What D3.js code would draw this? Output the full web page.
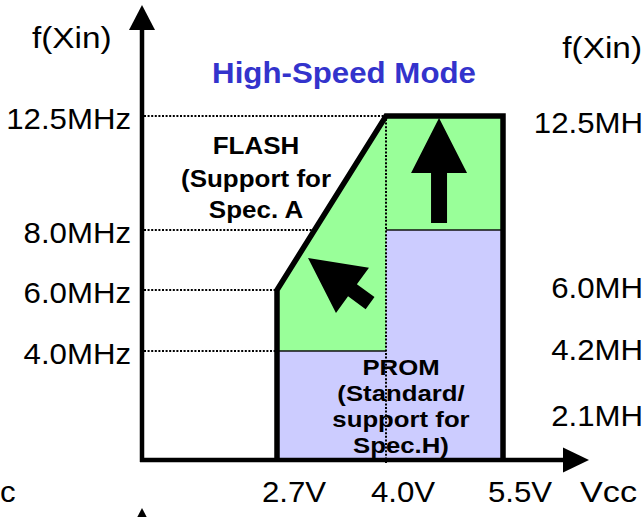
<!DOCTYPE html>
<html><head><meta charset="utf-8">
<script src="https://cdn.jsdelivr.net/npm/d3@7"></script>
<style>html,body{margin:0;padding:0;background:#fff;overflow:hidden}</style>
</head><body>
<svg id="chart" width="643" height="517"></svg>
<script>
// ---------- data ----------
const yTickValues = [12.5, 8.0, 6.0, 4.0];
const yTickLabels = ["12.5MHz", "8.0MHz", "6.0MHz", "4.0MHz"];
const xTickValues = [2.7, 4.0, 5.5];
const xTickLabels = ["2.7V", "4.0V", "5.5V"];
const flashVcc  = [2.7, 2.7, 4.0, 5.5, 5.5, 4.0, 4.0];
const flashFreq = [4.0, 6.0, 12.5, 12.5, 8.0, 8.0, 4.0];
const promVcc   = [2.7, 2.7, 4.0, 4.0, 5.5, 5.5];
const promFreq  = [0, 4.0, 4.0, 8.0, 8.0, 0];
const boundaryVcc  = [2.7, 2.7, 4.0, 5.5, 5.5];
const boundaryFreq = [0, 6.0, 12.5, 12.5, 0];
const arrowTailVcc  = [4.68, 3.81];
const arrowTailFreq = [8.28, 5.57];
const arrowTipVcc   = [4.68, 3.07];
const arrowTipFreq  = [12.42, 7.07];
const titleText = "High-Speed Mode";
const flashLabel = ["FLASH", "(Support for", "Spec. A"];
const promLabel = ["PROM", "(Standard/", "support for", "Spec.H)"];
const yAxisTitle = "f(Xin)";
const xAxisTitle = "Vcc";
// labels of the neighbouring charts, as far as they show inside the frame
const neighbourFreqValues = [12.5, 6.0, 4.2, 2.1];
const neighbourFreqLabels = ["12.5MH", "6.0MH", "4.2MH", "2.1MH"];
const neighbourXTitle = "c";

// ---------- layout ----------
const svg = d3.select("#chart");
const x0 = 142;               // y-axis position
const FONT = "Arial, 'Liberation Sans', Helvetica, sans-serif";
const yScale = d3.scaleLinear().domain([0, 4, 6, 8, 12.5]).range([460, 351, 290, 230, 116]);
const xScale = d3.scaleLinear().domain([2.7, 4.0, 5.5]).range([277, 386, 503]);
const nbY = d3.scaleLinear().domain([2.1, 4.2, 6.0, 12.5]).range([426, 360, 298, 133]);
const yBase = yScale(0);

const GREEN = "#99FF99", LAV = "#CCCCFF", BLUE = "#3333CC";

function addText(parent, str, x, y, o) {
  return parent.append("text")
    .attr("transform", `translate(${x},${y}) scale(${o.sx || 1},1)`)
    .attr("text-anchor", o.anchor || "start")
    .attr("font-family", FONT)
    .attr("font-size", o.size)
    .attr("font-weight", o.weight || "normal")
    .attr("fill", o.fill || "#000")
    .text(str);
}

const pts = (vs, fs) => vs.map((v, i) => [xScale(v), yScale(fs[i])]);
const line = d3.line();

// fills
svg.append("path").attr("d", line(pts(promVcc, promFreq)) + "Z").attr("fill", LAV);
svg.append("path").attr("d", line(pts(flashVcc, flashFreq)) + "Z").attr("fill", GREEN);

// thin boundary between PROM and FLASH (horizontal top edges)
const promPts = pts(promVcc, promFreq);
for (let i = 0; i < promPts.length - 1; i++) {
  if (promFreq[i] === promFreq[i + 1] && promFreq[i] > 0) {
    svg.append("line").attr("x1", promPts[i][0]).attr("y1", promPts[i][1])
      .attr("x2", promPts[i + 1][0]).attr("y2", promPts[i + 1][1])
      .attr("stroke", "#111").attr("stroke-width", 1.5);
  }
}

// dotted horizontal guides: from y-axis to the boundary
const bPts = pts(boundaryVcc, boundaryFreq);
function boundaryXAt(y) {
  for (let i = 0; i < bPts.length - 1; i++) {
    const [xa, ya] = bPts[i], [xb, yb] = bPts[i + 1];
    if ((y - ya) * (y - yb) <= 0 && ya !== yb) return xa + (y - ya) / (yb - ya) * (xb - xa);
  }
  return xScale(4.0);
}
const dotted = { stroke: "#000", w: 2, dash: "2,1.6" };
yTickValues.forEach(v => {
  const y = yScale(v);
  const xe = v === d3.max(boundaryFreq) ? xScale(4.0) : boundaryXAt(y);
  svg.append("line").attr("x1", x0 + 2).attr("x2", xe).attr("y1", y).attr("y2", y)
    .attr("stroke", dotted.stroke).attr("stroke-width", dotted.w).attr("stroke-dasharray", dotted.dash);
});

// thick boundary outline
svg.append("path").attr("d", line(bPts)).attr("fill", "none")
  .attr("stroke", "#000").attr("stroke-width", 5.5).attr("stroke-linejoin", "miter");

// axes
svg.append("line").attr("x1", x0).attr("x2", x0).attr("y1", yBase + 2).attr("y2", 29)
  .attr("stroke", "#000").attr("stroke-width", 4.5);
svg.append("path").attr("d", `M${x0 - 13},30 L${x0},5 L${x0 + 13},30 Z`).attr("fill", "#000");
svg.append("line").attr("x1", x0 - 2).attr("x2", 564).attr("y1", yBase).attr("y2", yBase)
  .attr("stroke", "#000").attr("stroke-width", 4.5);
svg.append("path").attr("d", `M563,${yBase - 12.5} L589,${yBase} L563,${yBase + 12.5} Z`).attr("fill", "#000");
// neighbouring chart's y-axis arrow (peeking in at the bottom)
svg.append("path").attr("d", `M${x0 - 13},533 L${x0},508 L${x0 + 13},533 Z`).attr("fill", "#000");

// block arrows
function blockArrow(tail, tip, hl, hw, sw) {
  const dx = tip[0] - tail[0], dy = tip[1] - tail[1];
  const L = Math.hypot(dx, dy), ux = dx / L, uy = dy / L, nx = -uy, ny = ux;
  const bx = tip[0] - ux * hl, by = tip[1] - uy * hl;
  const p = [
    [tail[0] + nx * sw / 2, tail[1] + ny * sw / 2],
    [bx + nx * sw / 2, by + ny * sw / 2],
    [bx + nx * hw / 2, by + ny * hw / 2],
    tip,
    [bx - nx * hw / 2, by - ny * hw / 2],
    [bx - nx * sw / 2, by - ny * sw / 2],
    [tail[0] - nx * sw / 2, tail[1] - ny * sw / 2]
  ];
  svg.append("path").attr("d", line(p) + "Z").attr("fill", "#000");
}
arrowTailVcc.forEach((v, i) => {
  blockArrow([xScale(v), yScale(arrowTailFreq[i])],
             [xScale(arrowTipVcc[i]), yScale(arrowTipFreq[i])], 55, 56, i === 0 ? 16 : 15);
});

// texts
const tick = { size: 30, sx: 1.04 };
yTickValues.forEach((v, i) => addText(svg, yTickLabels[i], 131, yScale(v) + 13, { ...tick, anchor: "end" }));
xTickValues.forEach((v, i) => addText(svg, xTickLabels[i], xScale(v) + 17, 502, { ...tick, anchor: "middle" }));
addText(svg, xAxisTitle, 580, 502, { size: 30, sx: 1.14 });
addText(svg, yAxisTitle, 32, 48, { size: 29, sx: 1.15 });
addText(svg, titleText, 344, 83, { size: 29.5, sx: 1.06, weight: "bold", anchor: "middle", fill: BLUE });

const flashBase = [154, 187, 218];
flashLabel.forEach((t, i) => addText(svg, t, 256, flashBase[i], { size: 24.5, sx: 1.06, weight: "bold", anchor: "middle" }));
const promBase = [375, 401, 427, 453];
promLabel.forEach((t, i) => addText(svg, t, 401, promBase[i], { size: 23, sx: 1.12, weight: "bold", anchor: "middle" }));

// neighbouring charts' labels (only the parts inside the frame)
addText(svg, neighbourXTitle, 0, 502, { ...tick, anchor: "start" });
addText(svg, yAxisTitle, 642, 58, { size: 29, sx: 1.15, anchor: "end" });
neighbourFreqValues.forEach((v, i) => {
  addText(svg, neighbourFreqLabels[i], 643, nbY(v), { ...tick, anchor: "end" });
});

// vertical dotted guide at 4.0V (drawn on top)
svg.append("line").attr("x1", xScale(4.0)).attr("x2", xScale(4.0))
  .attr("y1", yScale(12.5) + 3).attr("y2", yBase + 4)
  .attr("stroke", dotted.stroke).attr("stroke-width", dotted.w).attr("stroke-dasharray", dotted.dash);
</script>
</body></html>
